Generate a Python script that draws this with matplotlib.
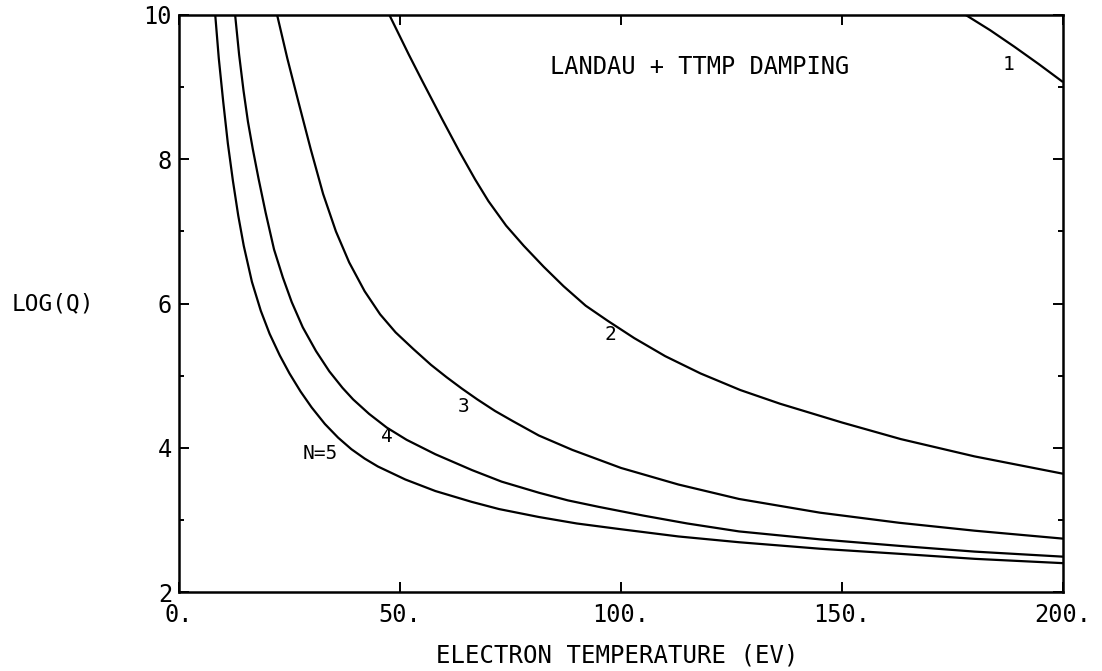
import matplotlib
matplotlib.use("Agg")
import matplotlib.pyplot as plt
from matplotlib.ticker import MultipleLocator, FixedLocator

# ---- data (electron temperature [eV], log(Q)) ----
t_n1 = [178.0, 183.5, 189.0, 194.5, 200.0]
q_n1 = [10.0, 9.79, 9.56, 9.32, 9.07]

t_n2 = [47.6, 50.0, 52.0, 55.0, 59.5, 63.5, 67.0, 70.0, 74.0, 78.0, 82.5, 87.0, 92.0,
        97.0, 103.0, 110.0, 118.0, 127.0, 136.0, 150.0, 163.3, 180.0, 200.0]
q_n2 = [10.0, 9.70, 9.45, 9.09, 8.56, 8.10, 7.72, 7.42, 7.08, 6.80, 6.51, 6.24, 5.97,
        5.76, 5.52, 5.27, 5.03, 4.80, 4.61, 4.35, 4.12, 3.88, 3.64]

t_n3 = [22.2, 24.5, 27.0, 29.8, 32.6, 35.5, 38.5, 42.0, 45.5, 49.0, 53.0, 57.0, 60.5,
        64.0, 67.5, 71.5, 75.5, 81.4, 89.0, 100.0, 113.0, 126.7, 145.0, 162.9, 180.0, 200.0]
q_n3 = [10.0, 9.40, 8.80, 8.14, 7.52, 7.00, 6.57, 6.17, 5.85, 5.60, 5.37, 5.15, 4.98,
        4.82, 4.67, 4.51, 4.37, 4.17, 3.97, 3.72, 3.49, 3.29, 3.10, 2.96, 2.85, 2.74]

t_n4 = [12.7, 13.6, 14.6, 15.6, 16.7, 18.0, 19.6, 21.5, 23.5, 25.5, 28.0, 31.0, 34.0,
        37.0, 39.4, 43.0, 47.0, 51.5, 58.0, 66.3, 73.0, 81.5, 88.0, 95.0, 105.0, 115.0,
        126.7, 145.0, 162.9, 180.0, 200.0]
q_n4 = [10.0, 9.45, 8.95, 8.52, 8.14, 7.73, 7.26, 6.75, 6.36, 6.02, 5.67, 5.34, 5.06,
        4.83, 4.67, 4.47, 4.28, 4.11, 3.91, 3.69, 3.53, 3.375, 3.27, 3.18, 3.06, 2.95,
        2.84, 2.73, 2.64, 2.56, 2.49]

t_n5 = [8.2, 9.0, 10.0, 11.05, 12.2, 13.4, 14.65, 16.5, 18.5, 20.5, 22.8, 25.0, 27.5,
        30.0, 33.0, 36.0, 39.0, 42.0, 45.0, 51.2, 58.0, 66.2, 72.4, 81.4, 90.0, 100.0,
        113.0, 126.7, 145.0, 162.9, 180.0, 200.0]
q_n5 = [10.0, 9.40, 8.80, 8.22, 7.70, 7.22, 6.80, 6.30, 5.90, 5.58, 5.28, 5.03, 4.78,
        4.56, 4.33, 4.14, 3.98, 3.85, 3.74, 3.56, 3.40, 3.25, 3.15, 3.04, 2.95, 2.87,
        2.77, 2.69, 2.60, 2.53, 2.46, 2.40]

curve_labels = ["1", "2", "3", "4", "N=5"]
label_pos_t = [187.7, 97.6, 64.3, 47.0, 32.0]
label_pos_q = [9.32, 5.57, 4.57, 4.15, 3.92]

x_ticks = [0, 50, 100, 150, 200]
x_ticklabels = ["0.", "50.", "100.", "150.", "200."]
y_ticks = [2, 4, 6, 8, 10]
y_ticklabels = ["2", "4", "6", "8", "10"]

title_text = "LANDAU + TTMP DAMPING"
x_label = "ELECTRON TEMPERATURE (EV)"
y_label = "LOG(Q)"

# ---- figure ----
FONT = ["DejaVu Sans Mono", "DejaVu Sans"]
plt.rcParams["font.family"] = FONT

W, H = 1102, 671
fig = plt.figure(figsize=(W / 100, H / 100), dpi=100)
ax_l, ax_r, ax_t, ax_b = 179, 1063, 15, 592
ax = fig.add_axes([ax_l / W, 1 - ax_b / H, (ax_r - ax_l) / W, (ax_b - ax_t) / H])

lw = 1.6
for t, q in [(t_n1, q_n1), (t_n2, q_n2), (t_n3, q_n3), (t_n4, q_n4), (t_n5, q_n5)]:
    ax.plot(t, q, color="black", lw=lw, solid_joinstyle="round", solid_capstyle="butt")

for lab, tx, ty in zip(curve_labels, label_pos_t, label_pos_q):
    ax.text(tx, ty, lab, fontsize=14, ha="center", va="center", color="black")

ax.text(117.9, 9.28, title_text, fontsize=17, ha="center", va="center", color="black")

ax.set_xlim(0, 200)
ax.set_ylim(2, 10)
ax.xaxis.set_major_locator(FixedLocator(x_ticks))
ax.set_xticklabels(x_ticklabels)
ax.yaxis.set_major_locator(FixedLocator(y_ticks))
ax.set_yticklabels(y_ticklabels)
ax.yaxis.set_minor_locator(MultipleLocator(1))

ax.tick_params(which="both", direction="in", top=True, right=True, width=1.4, color="black")
ax.tick_params(which="major", length=7)
ax.tick_params(which="minor", length=3.5)
ax.tick_params(axis="x", which="major", labelsize=17, pad=8)
ax.tick_params(axis="y", which="major", labelsize=17, pad=5)

for s in ax.spines.values():
    s.set_linewidth(1.8)
    s.set_color("black")

fig.text(617 / W, 1 - 655 / H, x_label, fontsize=17.3, ha="center", va="center")
fig.text(12 / W, 1 - 304 / H, y_label, fontsize=16.5, ha="left", va="center")

fig.savefig("out.png", dpi=100, facecolor="white")
